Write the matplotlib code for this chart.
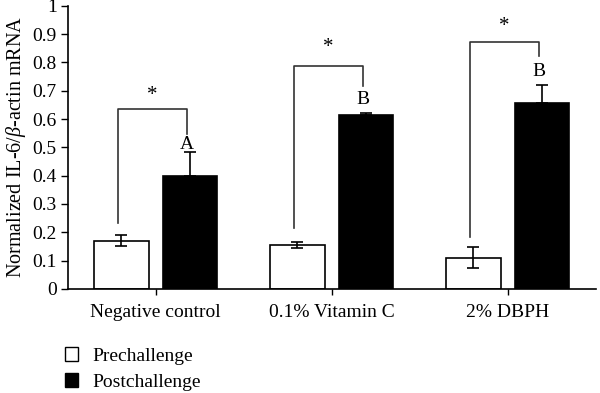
import matplotlib
matplotlib.use("Agg")
import matplotlib.pyplot as plt
import numpy as np
from matplotlib.patches import Patch

categories = ["Negative control", "0.1% Vitamin C", "2% DBPH"]
pre_vals = [0.17, 0.155, 0.11]
pre_err = [0.02, 0.012, 0.037]
post_vals = [0.40, 0.615, 0.658]
post_err = [0.085, 0.005, 0.064]
letters = ["A", "B", "B"]
# bracket: left leg start, top, right leg end
br_left = [0.233, 0.216, 0.184]
br_top = [0.636, 0.788, 0.873]
br_right = [0.548, 0.717, 0.822]
letter_y = [0.51, 0.668, 0.767]
star_y = [0.685, 0.852, 0.926]
yticks = [0, 0.1, 0.2, 0.3, 0.4, 0.5, 0.6, 0.7, 0.8, 0.9, 1]
ytick_labels = ["0", "0.1", "0.2", "0.3", "0.4", "0.5", "0.6", "0.7", "0.8", "0.9", "1"]

plt.rcParams['font.family'] = ['Liberation Serif', 'DejaVu Serif']
plt.rcParams['font.size'] = 14
plt.rcParams['mathtext.fontset'] = 'custom'
plt.rcParams['mathtext.it'] = 'Liberation Serif:italic'
plt.rcParams['mathtext.rm'] = 'Liberation Serif'

fig = plt.figure(figsize=(6, 3.93), dpi=100)
ax = fig.add_axes([0.113, 0.265, 0.88, 0.72])

x = np.arange(len(categories))
w = 0.31
off = 0.195
ax.bar(x - off, pre_vals, w, color="white", edgecolor="black", linewidth=1.2, zorder=2)
ax.bar(x + off, post_vals, w, color="black", edgecolor="black", linewidth=1.2, zorder=2)
ax.errorbar(x - off, pre_vals, yerr=pre_err, fmt="none", ecolor="black",
            elinewidth=1.2, capsize=4, capthick=1.2, zorder=3)
ax.errorbar(x + off, post_vals, yerr=[np.zeros(3), post_err], fmt="none", ecolor="black",
            elinewidth=1.2, capsize=4, capthick=1.2, zorder=3)

for i in range(len(categories)):
    xl = x[i] - off - 0.02
    xr = x[i] + off - 0.02
    ax.plot([xl, xl, xr, xr], [br_left[i], br_top[i], br_top[i], br_right[i]],
            color="#333333", linewidth=1.2, zorder=3)
    ax.text(x[i] + off - 0.02, letter_y[i], letters[i], ha="center", va="center", fontsize=14)
    ax.text((xl + xr) / 2, star_y[i], "*", ha="center", va="center", fontsize=15)

ax.set_xlim(-0.5, 2.5)
ax.set_ylim(0, 1)
ax.set_yticks(yticks)
ax.set_yticklabels(ytick_labels)
ax.set_xticks(x)
ax.set_xticklabels(categories)
ax.tick_params(axis="x", length=4, width=1, pad=7, labelsize=14)
ax.tick_params(axis="y", length=5, width=1, pad=3, labelsize=14)
for s in ["top", "right"]:
    ax.spines[s].set_visible(False)
for s in ["left", "bottom"]:
    ax.spines[s].set_linewidth(1.2)

ax.set_ylabel("Normalized IL-6/$\\mathit{\\beta}$-actin mRNA", fontsize=14.5, labelpad=3)

handles = [Patch(facecolor="white", edgecolor="black", linewidth=1),
           Patch(facecolor="black", edgecolor="black", linewidth=1)]
fig.legend(handles, ["Prechallenge", "Postchallenge"], loc="upper left",
           bbox_to_anchor=(0.108, 0.117), frameon=False, handlelength=0.7,
           handleheight=0.7, handletextpad=0.7, labelspacing=0.45, fontsize=14,
           borderaxespad=0, borderpad=0)

fig.savefig("out.png", dpi=100)
